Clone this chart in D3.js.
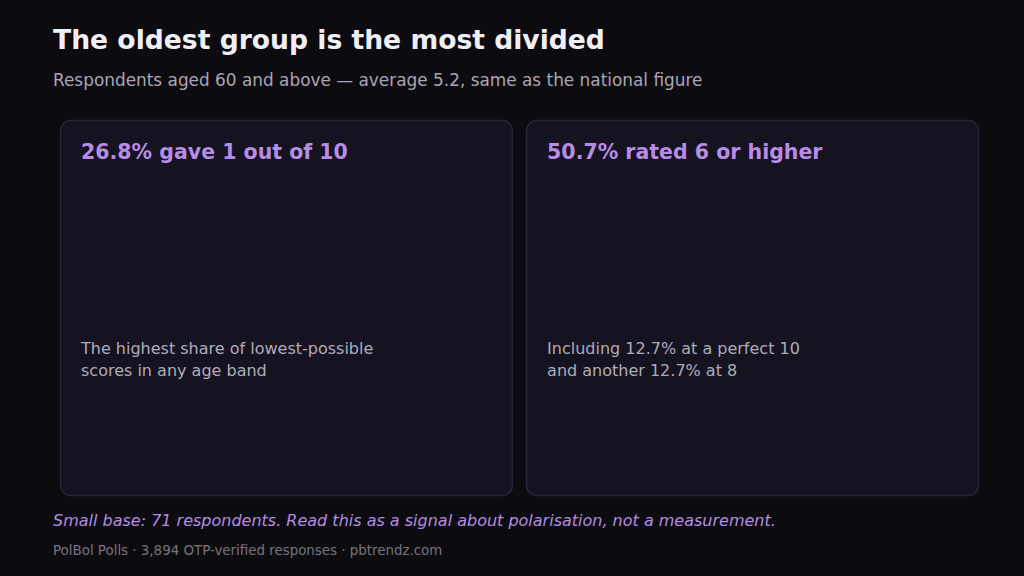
<!DOCTYPE html>
<html lang="en">
<head>
<meta charset="utf-8">
<title>The oldest group is the most divided</title>
<script src="https://d3js.org/d3.v7.min.js"></script>
<style>
  html, body { margin: 0; padding: 0; background: #0c0b10; }
  svg { display: block; font-family: "DejaVu Sans", sans-serif; }
</style>
</head>
<body>
<script>
// text content
var title = "The oldest group is the most divided";
var subtitle = "Respondents aged 60 and above \u2014 average 5.2, same as the national figure";
var headlines = ["26.8% gave 1 out of 10", "50.7% rated 6 or higher"];
var bodies = [
  ["The highest share of lowest-possible", "scores in any age band"],
  ["Including 12.7% at a perfect 10", "and another 12.7% at 8"]
];
var note = "Small base: 71 respondents. Read this as a signal about polarisation, not a measurement.";
var source = "PolBol Polls \u00b7 3,894 OTP-verified responses \u00b7 pbtrendz.com";

var w = 1024, h = 576;

var svg = d3.select("body").append("svg")
  .attr("width", w)
  .attr("height", h);

svg.append("rect")
  .attr("width", w)
  .attr("height", h)
  .attr("fill", "#0c0b10");

svg.append("text")
  .attr("x", 53).attr("y", 49)
  .attr("fill", "#f1eff6")
  .style("font-size", "26.6px")
  .style("font-weight", "bold")
  .text(title);

svg.append("text")
  .attr("x", 53).attr("y", 86)
  .attr("fill", "#a9a6b3")
  .style("font-size", "16.9px")
  .text(subtitle);

// card positions
var x = d3.scaleBand()
  .domain(d3.range(headlines.length))
  .range([60, 979])
  .paddingInner(13 / 459);

var cards = svg.selectAll("g.card")
  .data(headlines)
  .enter()
  .append("g")
  .attr("class", "card")
  .attr("transform", function(d, i) { return "translate(" + x(i) + ",120)"; });

cards.append("rect")
  .attr("x", 0.5).attr("y", 0.5)
  .attr("width", x.bandwidth() - 1)
  .attr("height", 375)
  .attr("rx", 10).attr("ry", 10)
  .attr("fill", "#161321")
  .attr("stroke", "#272436")
  .attr("stroke-width", 1.5);

cards.append("text")
  .attr("x", 21).attr("y", 39)
  .attr("fill", "#b78ce6")
  .style("font-size", "20.5px")
  .style("font-weight", "bold")
  .text(function(d) { return d; });

cards.append("text")
  .attr("x", 21).attr("y", 234)
  .attr("fill", "#aeabb8")
  .style("font-size", "16px")
  .selectAll("tspan")
  .data(function(d, i) { return bodies[i]; })
  .enter()
  .append("tspan")
  .attr("x", 21)
  .attr("dy", function(d, i) { return i ? 22 : 0; })
  .text(function(d) { return d; });

svg.append("text")
  .attr("x", 53).attr("y", 526)
  .attr("fill", "#b38be0")
  .style("font-size", "16px")
  .style("font-style", "italic")
  .text(note);

svg.append("text")
  .attr("x", 53).attr("y", 555)
  .attr("fill", "#77747f")
  .style("font-size", "13.4px")
  .text(source);
</script>
</body>
</html>
